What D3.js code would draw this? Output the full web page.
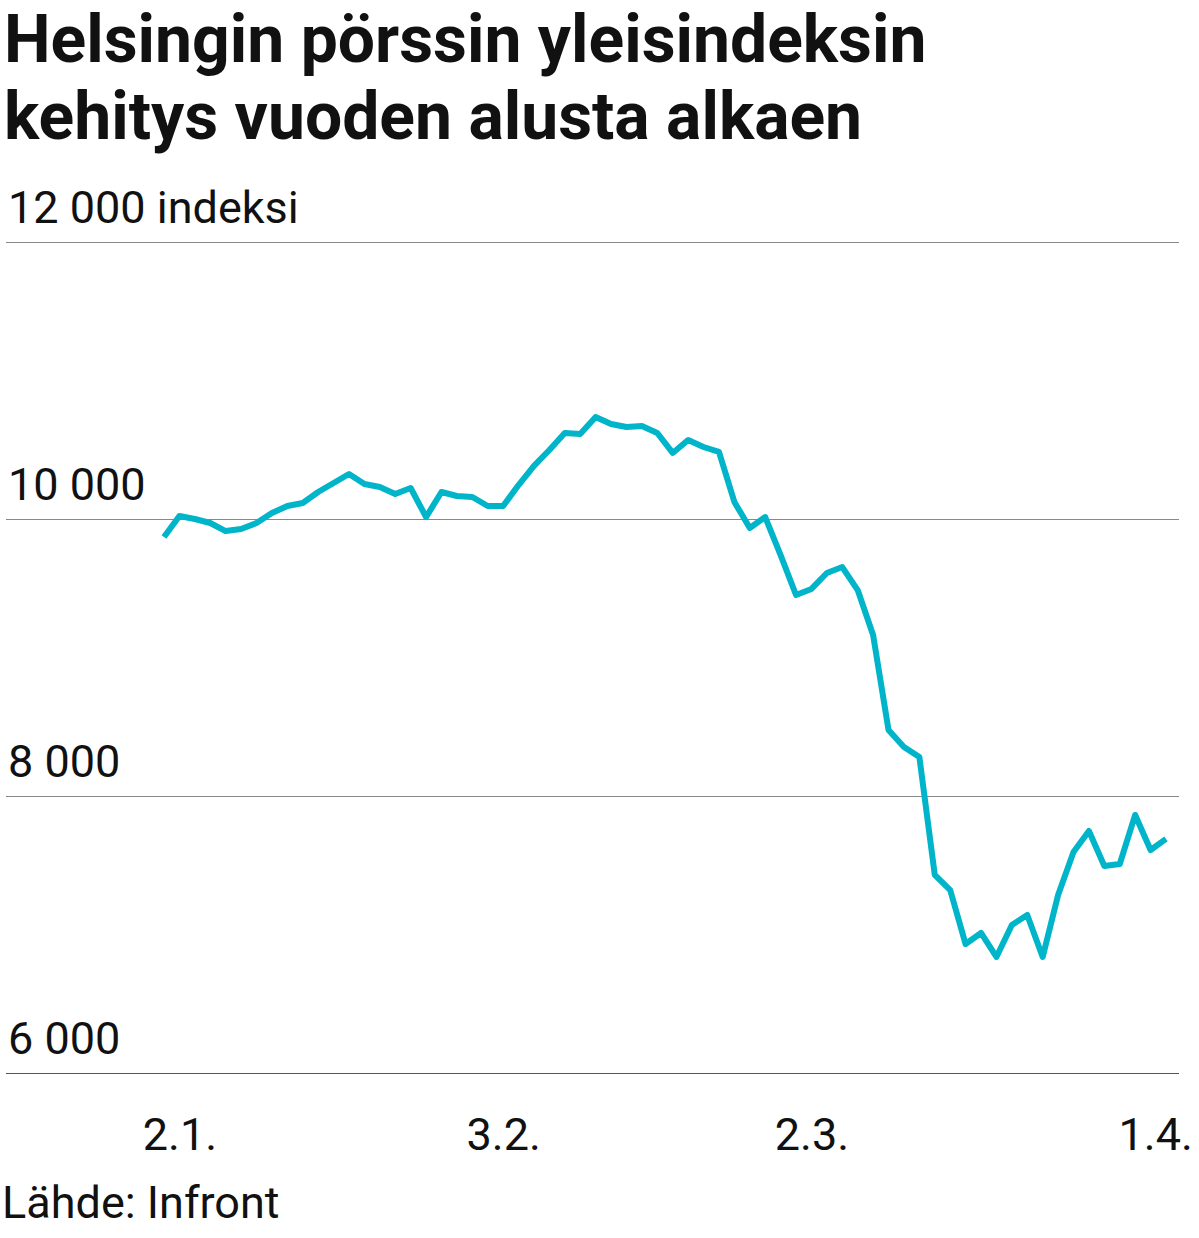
<!DOCTYPE html>
<html><head><meta charset="utf-8">
<script src="https://cdn.jsdelivr.net/npm/d3@7"></script>
<style>body{margin:0;background:#fff}svg{font-family:Roboto,sans-serif}</style>
</head><body><svg id="c" width="1199" height="1238"></svg>
<script>
const values = [9870,10022,10000,9971,9913,9928,9971,10043,10094,10116,10195,10260,10325,10253,10231,10181,10224,10014,10195,10166,10159,10094,10094,10245,10383,10498,10621,10614,10736,10686,10664,10671,10621,10477,10570,10520,10484,10123,9935,10014,9740,9451,9495,9610,9653,9487,9162,8477,8354,8282,7430,7321,6931,7011,6838,7069,7141,6838,7285,7596,7747,7495,7509,7863,7610,7690];
const yTicks = [6000,8000,10000,12000];
const yTickLabels = ["6 000","8 000","10 000","12 000 indeksi"];
const xTickIndex = [1,22,42,64.3];
const xTickLabels = ["2.1.","3.2.","2.3.","1.4."];

const svg = d3.select("#c");
const x = d3.scaleLinear().domain([0, values.length-1]).range([164,1166]);
const y = d3.scaleLinear().domain([6000,12000]).range([1073,242]);

svg.append("text").attr("x",4).attr("y",62).attr("font-size",66).attr("font-weight",700).attr("fill","#111").text("Helsingin pörssin yleisindeksin");
svg.append("text").attr("x",4).attr("y",139).attr("font-size",66).attr("font-weight",700).attr("fill","#111").text("kehitys vuoden alusta alkaen");

const yAxis = d3.axisLeft(y).tickValues(yTicks).tickSize(0).tickFormat((d,i)=>yTickLabels[i]);
const gy = svg.append("g").call(yAxis);
gy.select(".domain").remove();
gy.selectAll(".tick line").remove();
gy.selectAll(".tick").append("line").attr("x1",6).attr("x2",1179)
  .attr("stroke",d=>d===6000?"#555":"#888").attr("stroke-width",1.2);
gy.selectAll(".tick text").attr("x",8).attr("dy",-20).attr("text-anchor","start")
  .attr("font-size",45).attr("fill","#111").attr("font-family","Roboto");

const xAxis = d3.axisBottom(x).tickValues(xTickIndex).tickSize(0).tickFormat((d,i)=>xTickLabels[i]);
const gx = svg.append("g").attr("transform","translate(0,1150)").call(xAxis);
gx.select(".domain").remove();
gx.selectAll(".tick text").attr("font-size",45).attr("fill","#111").attr("font-family","Roboto").attr("y",0).attr("dy",0);

svg.append("path").datum(values).attr("fill","none").attr("stroke","#00b5c9").attr("stroke-width",6)
  .attr("stroke-linejoin","round").attr("d",d3.line().x((d,i)=>x(i)).y(d=>y(d)));

svg.append("text").attr("x",2).attr("y",1218).attr("font-size",45).attr("fill","#111").text("Lähde: Infront");
</script></body></html>
